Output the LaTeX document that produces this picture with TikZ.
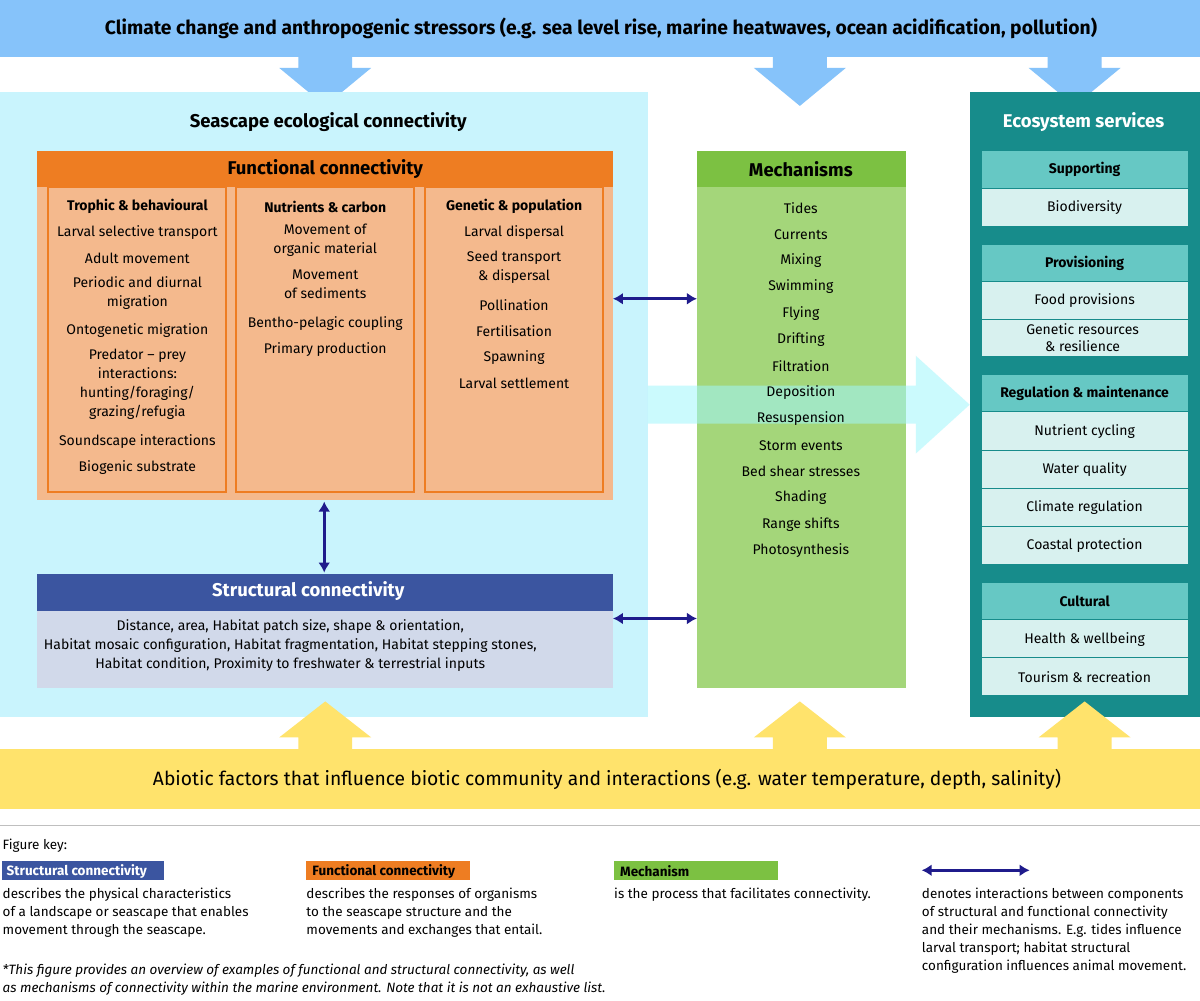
\documentclass[tikz,border=0pt]{standalone}
\usepackage{fontspec}
\setmainfont{Fira Sans}
\usetikzlibrary{arrows.meta}
\begin{document}
\definecolor{topblue}{HTML}{86C3FA}
\definecolor{seacyan}{HTML}{C9F4FD}
\definecolor{orhead}{HTML}{EE7D22}
\definecolor{orbody}{HTML}{F4B98D}
\definecolor{stblue}{HTML}{3B55A0}
\definecolor{stbody}{HTML}{D1D9EA}
\definecolor{mhead}{HTML}{7CC142}
\definecolor{mbody}{HTML}{A4D67A}
\definecolor{teal}{HTML}{178C8B}
\definecolor{tealhead}{HTML}{66C8C4}
\definecolor{tealitem}{HTML}{D8F1EF}
\definecolor{yel}{HTML}{FFE36C}
\definecolor{navy}{HTML}{1F1B8C}
\begin{tikzpicture}[x=1pt,y=-1pt,
  txt/.style={font=\fontsize{14}{19}\selectfont,align=center,inner sep=0pt},
  btxt/.style={font=\fontsize{14}{19}\selectfont\bfseries,align=center,inner sep=0pt},
  big/.style={font=\fontsize{18}{22}\selectfont\bfseries,inner sep=0pt},
  dbl/.style={draw=navy,line width=3pt,{Latex[length=10pt,width=12pt]}-{Latex[length=10pt,width=12pt]}},
  ktxt/.style={font=\fontsize{13.5}{18}\selectfont,align=left,anchor=north west,inner sep=0pt},
  ]
\fill[white] (0,0) rectangle (1200,1001);
% top band
\fill[topblue] (0,0) rectangle (1200,57);
\node[big,font=\fontsize{19.3}{22}\selectfont\bfseries] (top) at (601,28) {Climate change and anthropogenic stressors (e.g. sea level rise, marine heatwaves, ocean acidification, pollution)};
\foreach \cx in {325,800,1075}{
  \fill[topblue] (\cx-27,57) -- (\cx+27,57) -- (\cx+27,68) -- (\cx+46,68) -- (\cx,106) -- (\cx-46,68) -- (\cx-27,68) -- cycle;}
% seascape
\fill[seacyan] (0,92) rectangle (648,718);
\node[big,font=\fontsize{18.5}{22}\selectfont\bfseries] (sea) at (328,122) {Seascape ecological connectivity};
% functional
\fill[orbody] (37,151) rectangle (613,500);
\fill[orhead] (37,151) rectangle (613,187);
\node[big,font=\fontsize{18.5}{22}\selectfont\bfseries] (fc) at (325,169) {Functional connectivity};
\foreach \xa in {48,236,425}{\draw[orhead,line width=2pt] (\xa,187) rectangle (\xa+178,492);}
\node[btxt] (c1h) at (137,207) {Trophic \& behavioural};
\node[txt] at (137,233) {Larval selective transport};
\node[txt] at (137,259) {Adult movement};
\node[txt,anchor=north] at (137,277) {Periodic and diurnal\\migration};
\node[txt] at (137,331) {Ontogenetic migration};
\node[txt,anchor=north] at (137,349) {Predator – prey\\interactions:\\hunting/foraging/\\grazing/refugia};
\node[txt] at (137,442) {Soundscape interactions};
\node[txt] at (137,468) {Biogenic substrate};
\node[btxt] (c2h) at (325,207) {Nutrients \& carbon};
\node[txt,anchor=north] at (325,224) {Movement of\\organic material};
\node[txt,anchor=north] at (325,270) {Movement\\of sediments};
\node[txt] at (325,324) {Bentho-pelagic coupling};
\node[txt] at (325,350) {Primary production};
\node[btxt] (c3h) at (514,207) {Genetic \& population};
\node[txt] at (514,233) {Larval dispersal};
\node[txt,anchor=north] at (514,251) {Seed transport\\\& dispersal};
\node[txt] at (514,305) {Pollination};
\node[txt] at (514,331) {Fertilisation};
\node[txt] at (514,358) {Spawning};
\node[txt] at (514,384) {Larval settlement};
% structural
\fill[stbody] (37,611) rectangle (613,689);
\fill[stblue] (37,574) rectangle (613,611);
\node[big,white,font=\fontsize{18.5}{22}\selectfont\bfseries] (sc) at (308,592) {Structural connectivity};
\node[txt,anchor=north] at (290,620) {Distance, area, Habitat patch size, shape \& orientation,\\Habitat mosaic configuration, Habitat fragmentation, Habitat stepping stones,\\Habitat condition, Proximity to freshwater \& terrestrial inputs};
\coordinate (fcb) at (324,502); \coordinate (sct) at (324,573);
\draw[dbl] (fcb) -- (sct);
% mechanisms
\fill[mbody] (697,151) rectangle (906,689);
\fill[mhead] (697,151) rectangle (906,187);
\node[big,font=\fontsize{18.5}{22}\selectfont\bfseries] (mh) at (801,169) {Mechanisms};
% big cyan arrow (under mechanism text)
\fill[seacyan!80!cyan,opacity=0.55] (648,386) -- (916,386) -- (916,356) -- (970,405) -- (916,454) -- (916,424) -- (648,424) -- cycle;
\foreach \t [count=\i from 0] in {Tides,Currents,Mixing,Swimming,Flying,Drifting,Filtration,Deposition,Resuspension,Storm events,Bed shear stresses,Shading,Range shifts,Photosynthesis}{
  \node[txt] at (801,208+26.4*\i) {\t};}
\coordinate (a1) at (613,299); \coordinate (b1) at (697,299);
\coordinate (a2) at (613,619); \coordinate (b2) at (697,619);
\draw[dbl] (a1) -- (b1);
\draw[dbl] (a2) -- (b2);
% ecosystem services
\fill[teal] (970,92) rectangle (1200,718);
\node[big,white,font=\fontsize{18.5}{22}\selectfont\bfseries] (es) at (1084,122) {Ecosystem services};
\foreach \ya/\yb/\t/\h in {151/189/Supporting/1,189/227/Biodiversity/0,245/282/Provisioning/1,282/320/Food provisions/0,375/412/Regulation \& maintenance/1,412/451/Nutrient cycling/0,451/489/Water quality/0,489/527/Climate regulation/0,527/565/Coastal protection/0,583/621/Cultural/1,621/659/Health \& wellbeing/0,659/697/Tourism \& recreation/0}{
  \ifnum\h=1
    \fill[tealhead] (982,\ya) rectangle (1188,\yb-1);
    \node[btxt] at (1085,{(\ya+\yb)/2}) {\t};
  \else
    \fill[tealitem] (982,\ya) rectangle (1188,\yb-1);
    \node[txt] at (1085,{(\ya+\yb)/2}) {\t};
  \fi}
\fill[tealitem] (982,320) rectangle (1188,356);
\node[txt,font=\fontsize{14}{17}\selectfont] at (1083,338) {Genetic resources\\\& resilience};
% up arrows and bottom band
\foreach \cx in {325,800,1085}{
  \fill[yel] (\cx,702) -- (\cx+46,738) -- (\cx+27,738) -- (\cx+27,752) -- (\cx-27,752) -- (\cx-27,738) -- (\cx-46,738) -- cycle;}
\fill[yel] (0,750) rectangle (1200,810);
\node[font=\fontsize{19.3}{22}\selectfont,inner sep=0pt] (abio) at (607,780) {Abiotic factors that influence biotic community and interactions (e.g. water temperature, depth, salinity)};
% key
\draw[black!25,line width=1pt] (0,826) -- (1200,826);
\node[ktxt] at (2,839) {Figure key:};
\fill[stblue] (2,862) rectangle (164,881);
\node[btxt,white,font=\fontsize{13.5}{16}\selectfont\bfseries,anchor=west] at (6,872) {Structural connectivity};
\fill[orhead] (306,862) rectangle (470,881);
\node[btxt,font=\fontsize{13.5}{16}\selectfont\bfseries,anchor=west] at (312,872) {Functional connectivity};
\fill[mhead] (614,862) rectangle (778,881);
\node[btxt,font=\fontsize{13.5}{16}\selectfont\bfseries,anchor=west] at (620,872) {Mechanism};
\coordinate (k1) at (922,871); \coordinate (k2) at (1030,871);
\draw[dbl] (k1) -- (k2);
\node[ktxt] at (2,889) {describes the physical characteristics\\of a landscape or seascape that enables\\movement through the seascape.};
\node[ktxt] at (306,889) {describes the responses of organisms\\to the seascape structure and the\\movements and exchanges that entail.};
\node[ktxt] at (614,889) {is the process that facilitates connectivity.};
\node[ktxt] at (922,889) {denotes interactions between components\\of structural and functional connectivity\\and their mechanisms. E.g. tides influence\\larval transport; habitat structural\\configuration influences animal movement.};
\node[ktxt,font=\fontsize{13.5}{18}\selectfont\itshape] at (2,965) {*This figure provides an overview of examples of functional and structural connectivity, as well\\as mechanisms of connectivity within the marine environment. Note that it is not an exhaustive list.};
\end{tikzpicture}
\end{document}
